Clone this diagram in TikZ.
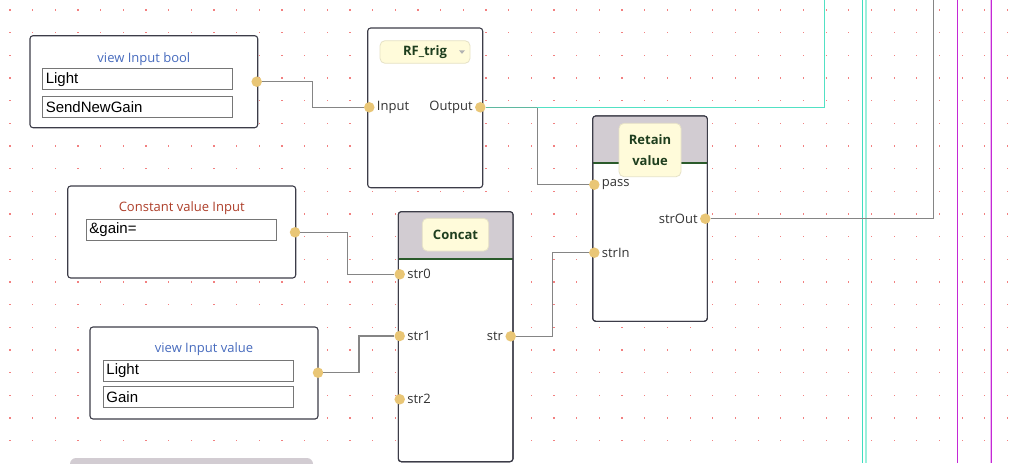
\documentclass[tikz,border=0pt]{standalone}
\usepackage{fontspec}
\setmainfont{Open Sans}
\newfontfamily\fieldfont{Liberation Sans}
\usetikzlibrary{positioning}
\definecolor{griddot}{HTML}{F28080}
\definecolor{blockline}{HTML}{3C3C48}
\definecolor{headgray}{HTML}{D2CCD2}
\definecolor{headgreen}{HTML}{2B5B2B}
\definecolor{chipfill}{HTML}{FFFBDA}
\definecolor{chipline}{HTML}{E6E2C6}
\definecolor{chiptext}{HTML}{1E3E1E}
\definecolor{portfill}{HTML}{E9C676}
\definecolor{wiregray}{HTML}{858585}
\definecolor{tealwire}{HTML}{3FDDBE}
\definecolor{tealpale}{HTML}{9CF0DC}
\definecolor{tealdark}{HTML}{5FB8A0}
\definecolor{railmag}{HTML}{C428D6}
\definecolor{railpink}{HTML}{EDB6F2}
\definecolor{titleblue}{HTML}{476BBE}
\definecolor{titlered}{HTML}{AE3F2A}
\definecolor{fieldline}{HTML}{767676}

\begin{document}
\begin{tikzpicture}[x=1pt,y=-1pt,
block/.style={draw=blockline, line width=1.1pt, fill=white, rounded corners=3pt,
	anchor=north west, inner sep=0pt, outer sep=0pt},
field/.style={draw=fieldline, line width=0.9pt, fill=white, anchor=west, inner xsep=3pt,
	inner ysep=0pt, minimum height=21pt, text width=184pt, align=left,
	font=\fieldfont\fontsize{15}{17}\selectfont},
title/.style={font=\fontsize{13}{15}\selectfont, inner sep=0pt},
chip/.style={draw=chipline, line width=0.8pt, fill=chipfill, rounded corners=5pt, inner sep=0pt,
	text=chiptext, font=\bfseries\fontsize{13}{20.5}\selectfont, align=center},
port/.style={circle, fill=portfill, minimum size=10.5pt, inner sep=0pt},
plabel/.style={font=\fontsize{13}{15}\selectfont, text=black!80, inner sep=1pt},
wire/.style={draw=wiregray, line width=1.3pt},
tealline/.style={draw=tealwire!80!tealpale, line width=1.5pt}]
\useasboundingbox (0,0) rectangle (1011,463);
\clip (0,0) rectangle (1011,463);

%dotted grid of the editor
\foreach \i in {0,...,44}{
\foreach \j in {0,...,19}{
	\fill[griddot] (10+22.67*\i-0.6,10+22.67*\j-0.6) rectangle ++(1.2,1.2);
}}

%rails on the right
\draw[tealwire, line width=1.2pt] (862.7,0) -- (862.7,463);
\draw[tealpale, line width=1.2pt] (865.9,0) -- (865.9,463);
\draw[railmag, line width=1.1pt] (957.7,0) -- (957.7,463);
\draw[railpink, line width=1pt] (990.3,0) -- (990.3,463);
\draw[railmag, line width=1.1pt] (991.6,0) -- (991.6,463);

%view Input bool
\node[block, minimum width=227.7pt, minimum height=92pt] (vib) at (30,35.7) {};
\node[title, text=titleblue] at ([yshift=-23pt]vib.north) {view Input bool};
\node[field] (vibF1) at (42.3,79.2) {Light};
\node[field] (vibF2) at (42.3,106.7) {SendNewGain};
\node[port] (vibOut) at (256.7,81.7) {};

%RF_trig
\node[block, minimum width=115pt, minimum height=159.7pt] (rf) at (367.7,28) {};
\node[chip, minimum width=90pt, minimum height=22.6pt] (rfName) at (425,52) {RF\_trig};
\fill[gray!60] (459,50.3) -- (465,50.3) -- (462,53.8) -- cycle;
\node[port] (rfIn) at (369.3,107.3) {};
\node[port] (rfOut) at (480.3,107.3) {};
\node[plabel, right=1pt of rfIn] {Input};
\node[plabel, left=1pt of rfOut] {Output};

%Retain value
\node[block, minimum width=114.6pt, minimum height=205.3pt] (ret) at (592.7,116) {};
\fill[headgray, rounded corners=3pt] (ret.north west) rectangle ([yshift=-47.3pt]ret.north east);
\fill[headgray] ([yshift=-10pt]ret.north west) rectangle ([yshift=-47.3pt]ret.north east);
\draw[headgreen, line width=2pt] ([yshift=-47.3pt]ret.north west) -- ([yshift=-47.3pt]ret.north east);
\draw[blockline, line width=1.1pt, rounded corners=3pt] (ret.north west) rectangle (ret.south east);
\node[chip, minimum width=62pt, minimum height=53.4pt] (retName) at (650,150) {Retain\\value};
\node[port] (retPass) at (594.3,184.7) {};
\node[port] (retIn) at (594.3,252.7) {};
\node[port] (retOut) at (705.3,218.7) {};
\node[plabel, right=1pt of retPass] {pass};
\node[plabel, right=1pt of retIn] {strIn};
\node[plabel, left=1pt of retOut] {strOut};

%Constant value Input
\node[block, minimum width=228pt, minimum height=92pt] (cvi) at (67.7,186) {};
\node[title, text=titlered] at ([yshift=-22pt]cvi.north) {Constant value Input};
\node[field] (cviF1) at (86,229.7) {\&gain=};
\node[port] (cviOut) at (295,232.3) {};

%Concat
\node[block, minimum width=114.7pt, minimum height=250pt] (cat) at (398.3,211.7) {};
\fill[headgray, rounded corners=3pt] (cat.north west) rectangle ([yshift=-47pt]cat.north east);
\fill[headgray] ([yshift=-10pt]cat.north west) rectangle ([yshift=-47pt]cat.north east);
\draw[headgreen, line width=2pt] ([yshift=-47pt]cat.north west) -- ([yshift=-47pt]cat.north east);
\draw[blockline, line width=1.1pt, rounded corners=3pt] (cat.north west) rectangle (cat.south east);
\node[chip, minimum width=66.4pt, minimum height=32.7pt] (catName) at (455.5,234.7) {Concat};
\node[port] (catS0) at (399.7,274.3) {};
\node[port] (catS1) at (399.7,336) {};
\node[port] (catS2) at (399.7,399.3) {};
\node[port] (catOut) at (510.7,336.3) {};
\node[plabel, right=1pt of catS0] {str0};
\node[plabel, right=1pt of catS1] {str1};
\node[plabel, right=1pt of catS2] {str2};
\node[plabel, left=1pt of catOut] {str};

%view Input value
\node[block, minimum width=228pt, minimum height=92pt] (viv) at (90,327) {};
\node[title, text=titleblue] at ([yshift=-22pt]viv.north) {view Input value};
\node[field] (vivF1) at (103,370.7) {Light};
\node[field] (vivF2) at (103,397.3) {Gain};
\node[port] (vivOut) at (318,372.7) {};

%next block, cut off at the bottom
\fill[headgray, rounded corners=6pt] (70,458) rectangle (313,480);

%connections
\coordinate (tealTop) at (824.3,0);
\coordinate (br) at (537.3,107.3);
\coordinate (strTop) at (933.3,0);
\draw[wire] (vibOut) -- ++(56,0) |- (rfIn);
\draw[wire] (br) |- (retPass);
\draw[tealline] (rfOut) -| (tealTop);
\draw[tealdark, line width=1.5pt] (rfOut) -- (br);
\draw[wire] (retOut) -| (strTop);
\draw[wire] (cviOut) -- ++(52.3,0) |- (catS0);
\draw[wire] (vivOut) -- ++(41,0) |- (catS1);
\draw[wire] (catOut) -- ++(41.6,0) |- (retIn);
\end{tikzpicture}
\end{document}
